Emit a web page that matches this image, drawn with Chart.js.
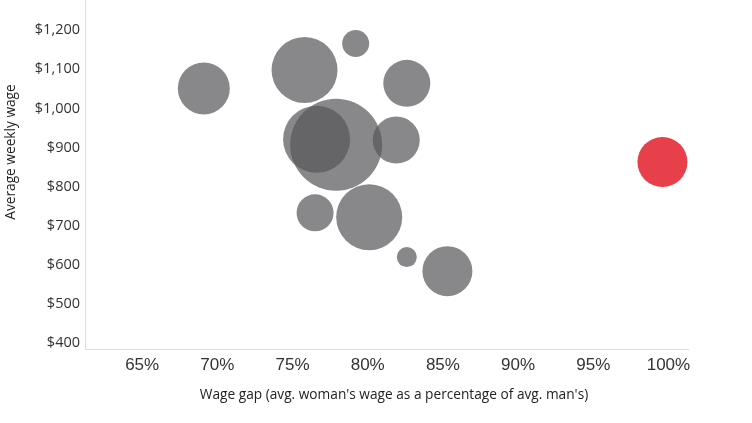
<!DOCTYPE html>
<html>
<head>
<meta charset="utf-8">
<script src="https://cdn.jsdelivr.net/npm/chart.js@4.4.1/dist/chart.umd.min.js"></script>
<style>
    html, body { margin: 0; padding: 0; background: #fff; }
    #wrap { width: 752px; height: 423px; position: relative; }
</style>
</head>
<body>
<div id="wrap"><canvas id="wageChart"></canvas></div>
<script>
// ================================
// Data
// ================================
const gapPct   = [69.1, 75.8, 79.2, 82.6, 76.6, 77.9, 81.9, 76.5, 80.1, 82.6, 85.3, 99.6];
const weekly   = [1051, 1098, 1166, 1064, 921, 907, 919, 733, 722, 620, 584, 863];
const sizes    = [26, 33, 13.5, 23.5, 33.5, 46, 23.5, 18.5, 33, 10, 25, 25];
const isHighlight = [false, false, false, false, false, false, false, false, false, false, false, true];

const xTicks = [65, 70, 75, 80, 85, 90, 95, 100];
const yTicks = [400, 500, 600, 700, 800, 900, 1000, 1100, 1200];

const xTitle = "Wage gap (avg. woman's wage as a percentage of avg. man's)";
const yTitle = "Average weekly wage";

const FONT = "'Open Sans', sans-serif";

const grayPoints = [];
const redPoints = [];
gapPct.forEach((x, i) => {
    const p = { x: x, y: weekly[i], r: sizes[i] };
    (isHighlight[i] ? redPoints : grayPoints).push(p);
});

// axis titles, placed by hand (the reference's are off-centre)
const axisTitles = {
    id: "axisTitles",
    afterDraw(chart) {
        const c = chart.ctx;
        c.save();
        c.fillStyle = "#222";
        c.font = "13.7px " + FONT;
        c.textAlign = "center";
        c.textBaseline = "middle";
        c.fillText(xTitle, 394, 395);
        c.translate(11, 152);
        c.rotate(-Math.PI / 2);
        c.fillText(yTitle, 0, 0);
        c.restore();
    }
};

// ================================
// Chart
// ================================
const ctx = document.getElementById("wageChart");
new Chart(ctx, {
    type: "bubble",
    data: {
        datasets: [
            {
                data: grayPoints,
                backgroundColor: "rgba(85, 85, 90, 0.7)",
                borderWidth: 0,
                hoverBorderWidth: 0
            },
            {
                data: redPoints,
                backgroundColor: "#e8404b",
                borderWidth: 0,
                hoverBorderWidth: 0
            }
        ]
    },
    plugins: [axisTitles],
    options: {
        responsive: true,
        maintainAspectRatio: false,
        animation: false,
        events: [],
        layout: { autoPadding: false, padding: { left: 4, right: 64, top: 0, bottom: 18 } },
        plugins: {
            legend: { display: false },
            tooltip: { enabled: false }
        },
        scales: {
            x: {
                type: "linear",
                min: 61.2,
                max: 101.3,
                afterBuildTicks: (scale) => { scale.ticks = xTicks.map(v => ({ value: v })); },
                afterFit: (scale) => {
                    scale.height = 423 - 349 - 18;
                    scale.paddingLeft = 0;
                    scale.paddingRight = 0;
                },
                grid: { display: false, drawTicks: false },
                border: { display: true, color: "#dcdcdc", width: 1 },
                ticks: {
                    padding: 6,
                    color: "#333",
                    font: { family: "'Liberation Sans', Arial, sans-serif", size: 17 },
                    maxRotation: 0,
                    callback: (v) => v + "%"
                }
            },
            y: {
                type: "linear",
                min: 385,
                max: 1277,
                afterBuildTicks: (scale) => { scale.ticks = yTicks.map(v => ({ value: v })); },
                afterFit: (scale) => {
                    scale.width = 85 - 4;
                    scale.paddingTop = 0;
                    scale.paddingBottom = 0;
                },
                grid: { display: false, drawTicks: false },
                border: { display: true, color: "#dcdcdc", width: 1 },
                ticks: {
                    padding: 5,
                    color: "#333",
                    font: { family: FONT, size: 14.5 },
                    callback: (v) => "$" + v.toLocaleString("en-US")
                }
            }
        }
    }
});
</script>
</body>
</html>
